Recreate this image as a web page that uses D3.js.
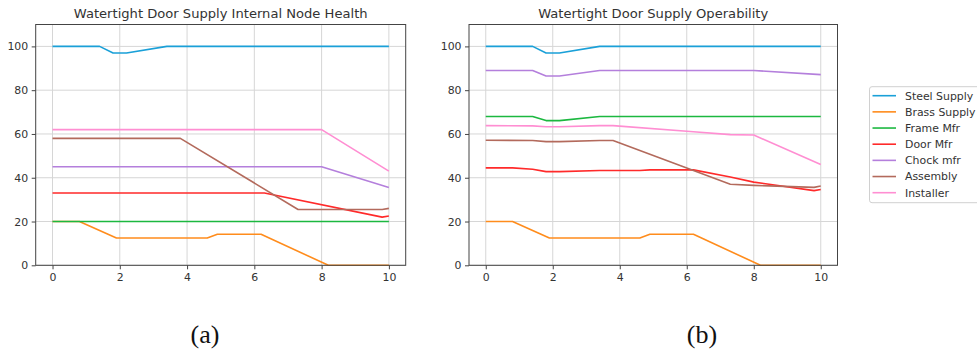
<!DOCTYPE html>
<meta charset="utf-8">
<head>
<style>
  body { margin: 0; background: white; }
  svg { display: block; }
  .tick text { font-family: "DejaVu Sans", sans-serif; font-size: 10.9px; fill: #333; }
  .title { font-family: "DejaVu Sans", sans-serif; font-size: 13.1px; fill: #333; }
  .legend text { font-family: "DejaVu Sans", sans-serif; font-size: 10.9px; fill: #333; }
  .caption { font-family: "Liberation Serif", serif; font-size: 26px; fill: #111; }
</style>
<script src="https://cdn.jsdelivr.net/npm/d3@7"></script>
</head>
<body>
<svg id="chart"></svg>
<script>

// series names and colours
let seriesNames = ["Steel Supply", "Brass Supply", "Frame Mfr", "Door Mfr", "Chock mfr", "Assembly", "Installer"]
let seriesColors = ["#1aa0d8", "#ff8c1c", "#1cb840", "#ff2a2a", "#b47fdc", "#b36a5c", "#ff8ed2"]

// panel (a): internal node health, [time, value]
let healthSteel = [[0,100],[1.4,100],[1.8,97],[2.2,97],[3.4,100],[10,100]]
let healthBrass = [[0,20],[0.8,20],[1.9,12.5],[4.6,12.5],[4.9,14.2],[6.2,14.2],[8.2,0],[10,0]]
let healthFrame = [[0,20],[10,20]]
let healthDoor = [[0,33],[6.3,33],[9.8,22],[10,22.5]]
let healthChock = [[0,45],[8,45],[10,35.5]]
let healthAssembly = [[0,58],[3.8,58],[7.3,25.5],[9.8,25.5],[10,26]]
let healthInstaller = [[0,62],[8,62],[10,43]]

// panel (b): operability, [time, value]
let operSteel = [[0,100],[1.4,100],[1.8,97],[2.2,97],[3.4,100],[10,100]]
let operBrass = [[0,20],[0.8,20],[1.9,12.5],[4.6,12.5],[4.9,14.2],[6.2,14.2],[8.2,0],[10,0]]
let operFrame = [[0,68],[1.4,68],[1.8,66.1],[2.2,66.1],[3.4,68],[10,68]]
let operDoor = [[0,44.5],[0.8,44.5],[1.4,43.9],[1.8,42.8],[2.2,42.8],[3.4,43.3],[4.6,43.3],[4.9,43.6],[6.2,43.6],[7.3,40.3],[8,38],[9.8,34.1],[10,34.6]]
let operChock = [[0,89],[1.4,89],[1.8,86.5],[2.2,86.5],[3.4,89],[8,89],[10,87.1]]
let operAssembly = [[0,57.1],[1.4,57],[1.8,56.5],[2.2,56.5],[3.4,57],[3.8,57],[7.3,37],[8,36.5],[9.8,35.6],[10,36.2]]
let operInstaller = [[0,63.8],[1.4,63.7],[1.8,63.3],[2.2,63.3],[3.4,63.8],[3.8,63.8],[6.2,61],[7.3,59.7],[8,59.5],[10,46]]

let xTicks = [0, 2, 4, 6, 8, 10]
let yTicks = [0, 20, 40, 60, 80, 100]

let panelTitles = ["Watertight Door Supply Internal Node Health", "Watertight Door Supply Operability"]
let captions = ["(a)", "(b)"]

let panelData = [
  [healthSteel, healthBrass, healthFrame, healthDoor, healthChock, healthAssembly, healthInstaller],
  [operSteel, operBrass, operFrame, operDoor, operChock, operAssembly, operInstaller]
]

function getConfig() {
  let width = 977, height = 354
  let panels = [
    {left: 35.7, right: 405.7, captionX: 205},
    {left: 469, right: 837.5, captionX: 702}
  ]
  let top = 24.5, bottom = 265.3
  let container = d3.select("#chart").attr("width", width).attr("height", height)
  return {width, height, panels, top, bottom, container}
}

function drawPanel(config, p, i) {
  let {container, top, bottom} = config
  let xScale = d3.scaleLinear().domain([-0.5, 10.5]).range([p.left, p.right])
  let yScale = d3.scaleLinear().domain([0, 110]).range([bottom, top])

  let g = container.append("g")

  // grid
  g.append("g").selectAll("line").data(xTicks).enter().append("line")
    .attr("x1", d => xScale(d)).attr("x2", d => xScale(d))
    .attr("y1", top).attr("y2", bottom)
    .attr("stroke", "#d6d6d6").attr("stroke-width", 1)
  g.append("g").selectAll("line").data(yTicks).enter().append("line")
    .attr("y1", d => yScale(d)).attr("y2", d => yScale(d))
    .attr("x1", p.left).attr("x2", p.right)
    .attr("stroke", "#d6d6d6").attr("stroke-width", 1)

  // lines
  let line = d3.line().x(d => xScale(d[0])).y(d => yScale(d[1]))
  g.append("g").selectAll("path").data(panelData[i]).enter().append("path")
    .attr("d", line)
    .attr("fill", "none")
    .attr("stroke", (d, k) => seriesColors[k])
    .attr("stroke-width", 1.6)
    .attr("stroke-linejoin", "round")

  // frame
  g.append("rect")
    .attr("x", p.left).attr("y", top)
    .attr("width", p.right - p.left).attr("height", bottom - top)
    .attr("fill", "none").attr("stroke", "#444").attr("stroke-width", 1)

  // axes
  let axisX = d3.axisBottom(xScale).tickValues(xTicks).tickSize(4).tickPadding(3.5)
  g.append("g").attr("transform", `translate(0,${bottom})`).call(axisX)
    .call(a => a.select(".domain").remove())
    .call(a => a.selectAll(".tick line").attr("stroke", "#444"))
  let axisY = d3.axisLeft(yScale).tickValues(yTicks).tickSize(4).tickPadding(3.5)
  g.append("g").attr("transform", `translate(${p.left},0)`).call(axisY)
    .call(a => a.select(".domain").remove())
    .call(a => a.selectAll(".tick line").attr("stroke", "#444"))

  g.append("text").attr("class", "title")
    .attr("x", (p.left + p.right) / 2).attr("y", 18)
    .attr("text-anchor", "middle")
    .text(panelTitles[i])

  g.append("text").attr("class", "caption")
    .attr("x", p.captionX).attr("y", 343)
    .attr("text-anchor", "middle")
    .text(captions[i])
}

function drawLegend(config) {
  let {container} = config
  let legend = container.append("g").attr("class", "legend")
  legend.append("rect")
    .attr("x", 869.5).attr("y", 86.7)
    .attr("width", 120).attr("height", 116)
    .attr("rx", 2.5)
    .attr("fill", "white").attr("stroke", "#d0d0d0").attr("stroke-width", 1)

  let rowY = d3.scalePoint().domain(seriesNames).range([95.7, 192.7])
  let rows = legend.selectAll(".row").data(seriesNames).enter().append("g")
    .attr("transform", d => `translate(0,${rowY(d)})`)
  rows.append("line")
    .attr("x1", 872.5).attr("x2", 896)
    .attr("stroke", (d, k) => seriesColors[k]).attr("stroke-width", 1.6)
  rows.append("text")
    .attr("x", 905).attr("dy", "0.35em")
    .text(d => d)
}

let config = getConfig()
config.panels.forEach((p, i) => drawPanel(config, p, i))
drawLegend(config)

</script>
</body>
